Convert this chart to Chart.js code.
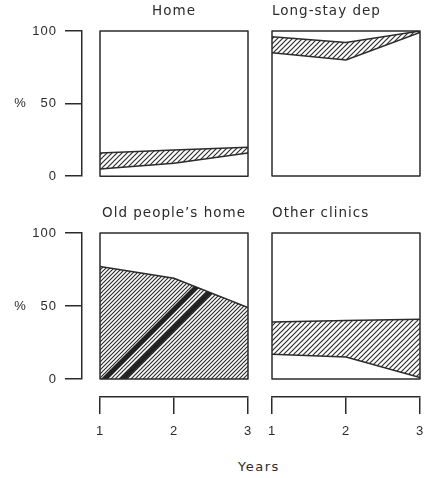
<!DOCTYPE html>
<html>
<head>
<meta charset="utf-8">
<script src="https://cdn.jsdelivr.net/npm/chart.js@4.4.0/dist/chart.umd.min.js"></script>
<style>
  html, body { margin: 0; padding: 0; background: #fff; }
  #wrap { position: relative; width: 424px; height: 478px; overflow: hidden; }
  canvas { position: absolute; }
  #years { position: absolute; left: 200px; width: 118px; top: 459px; text-align: center;
           font: 13px 'DejaVu Sans'; letter-spacing: 1.5px; color: #2b2b2b; line-height: 16px; }
</style>
</head>
<body>
<div id="wrap">
  <canvas id="home" width="254" height="192" style="left:0;top:0"></canvas>
  <canvas id="longstay" width="158" height="185" style="left:266px;top:0"></canvas>
  <canvas id="oldpeople" width="254" height="245" style="left:0;top:202px"></canvas>
  <canvas id="clinics" width="158" height="245" style="left:266px;top:202px"></canvas>
  <div id="years">Years</div>
</div>
<script>
// years on the x axis
const years = [1, 2, 3];
// share (%) at lower and upper edge of each hatched band
const homeLow = [5, 9, 16];
const homeHigh = [16, 18, 20];
const longLow = [85, 80, 99];
const longHigh = [96, 92, 100];
const oldHigh = [77, 69, 49];
const otherLow = [17, 15, 1];
const otherHigh = [39, 40, 41];
const yTicks = [0, 50, 100];

const ink = '#2b2b2b';
const tickFont = { family: 'Liberation Sans', size: 13 };
const titleFont = { family: 'DejaVu Sans', size: 13.5, weight: 'normal' };

function hatch(step) {
    const c = document.createElement('canvas');
    c.width = step; c.height = step;
    const g = c.getContext('2d');
    g.fillStyle = '#fff';
    g.fillRect(0, 0, step, step);
    g.strokeStyle = '#2e2e2e';
    g.lineWidth = 1.2;
    g.beginPath();
    g.moveTo(0, step); g.lineTo(step, 0);
    g.moveTo(-1, 1); g.lineTo(1, -1);
    g.moveTo(step - 1, step + 1); g.lineTo(step + 1, step - 1);
    g.stroke();
    return g.createPattern(c, 'repeat');
}

const pts = arr => years.map((x, i) => ({ x: x, y: arr[i] }));

const spacing = {
    id: 'spacing',
    beforeDraw(chart) { chart.ctx.letterSpacing = '1px'; }
};

const frame = {
    id: 'frame',
    afterDatasetsDraw(chart) {
        const { ctx, chartArea: a } = chart;
        ctx.save();
        ctx.strokeStyle = ink;
        ctx.lineWidth = 1.5;
        ctx.lineJoin = 'round';
        ctx.strokeRect(a.left, a.top, a.right - a.left, a.bottom - a.top);
        ctx.restore();
    }
};

// the two heavy strokes printed across the old people's home hatching
const stripes = {
    id: 'stripes',
    afterDatasetsDraw(chart) {
        const { ctx, scales: { x, y } } = chart;
        const p = chart.getDatasetMeta(0).data;
        const y0 = y.getPixelForValue(0);
        ctx.save();
        ctx.beginPath();
        ctx.moveTo(p[0].x, y0);
        p.forEach(q => ctx.lineTo(q.x, q.y));
        ctx.lineTo(p[p.length - 1].x, y0);
        ctx.closePath();
        ctx.clip();
        ctx.strokeStyle = '#222';
        ctx.lineWidth = 5;
        [1.06, 1.31].forEach(v => {
            const sx = x.getPixelForValue(v);
            ctx.beginPath();
            ctx.moveTo(sx - 10, y0 + 10);
            ctx.lineTo(sx + 250, y0 - 250);
            ctx.stroke();
        });
        ctx.restore();
    }
};

function scales(showX, showY) {
    const s = {
        x: { type: 'linear', min: 1, max: 3, display: false },
        y: { type: 'linear', min: 0, max: 100, display: false }
    };
    if (showX) {
        s.x = {
            type: 'linear', min: 1, max: 3, position: 'bottom', weight: 1,
            ticks: { stepSize: 1, padding: 10, color: ink, font: tickFont, maxRotation: 0 },
            grid: { drawOnChartArea: false, drawTicks: true, tickLength: 17, color: ink, lineWidth: 1.5 },
            border: { display: true, color: ink, width: 1.5 },
            afterFit: a => { a.height = 50; a.paddingLeft = 0; a.paddingRight = 0; }
        };
        s.xGap = {
            type: 'linear', axis: 'x', position: 'bottom', weight: 0,
            ticks: { display: false }, grid: { display: false }, border: { display: false },
            afterFit: a => { a.height = 18; a.paddingLeft = 0; a.paddingRight = 0; }
        };
    }
    if (showY) {
        s.y = {
            type: 'linear', min: 0, max: 100, position: 'left', weight: 1,
            afterBuildTicks: a => { a.ticks = yTicks.map(v => ({ value: v })); },
            ticks: { padding: 8, color: ink, font: tickFont,
                     callback: v => v === 50 ? '%   50' : v },
            grid: { drawOnChartArea: false, drawTicks: true, tickLength: 17, color: ink, lineWidth: 1.5 },
            border: { display: true, color: ink, width: 1.5 },
            afterFit: a => { a.width = 82; }
        };
        s.yGap = {
            type: 'linear', axis: 'y', position: 'left', weight: 0,
            ticks: { display: false }, grid: { display: false }, border: { display: false },
            afterFit: a => { a.width = 18; }
        };
    }
    return s;
}

function panel(id, title, align, datasets, showX, showY, pad, extra) {
    const ctx = document.getElementById(id).getContext('2d');
    return new Chart(ctx, {
        type: 'line',
        data: { datasets: datasets },
        options: {
            responsive: false,
            animation: false,
            layout: { padding: pad },
            elements: { point: { radius: 0 }, line: { tension: 0, borderColor: ink, borderWidth: 1.5 } },
            plugins: {
                legend: { display: false },
                tooltip: { enabled: false },
                title: {
                    display: true, text: title, align: align, fullSize: false,
                    color: ink, font: titleFont, padding: { top: 3, bottom: 11.8 }
                }
            },
            scales: scales(showX, showY)
        },
        plugins: [spacing].concat(extra || [], [frame])
    });
}

function band(low, high, step) {
    return [
        { data: pts(low), fill: false },
        { data: pts(high), fill: '-1', backgroundColor: hatch(step) }
    ];
}

panel('home', 'Home', 'center', band(homeLow, homeHigh, 5), false, true,
      { left: 0, right: 6, top: 0, bottom: 0 });
panel('longstay', 'Long-stay dep', 'start', band(longLow, longHigh, 5), false, false,
      { left: 6, right: 4, top: 0, bottom: 9 });
panel('oldpeople', 'Old people\u2019s home', 'center',
      [{ data: pts(oldHigh), fill: 'origin', backgroundColor: hatch(4) }], true, true,
      { left: 0, right: 6, top: 0, bottom: 0 }, [stripes]);
panel('clinics', 'Other clinics', 'start', band(otherLow, otherHigh, 5), true, false,
      { left: 6, right: 4, top: 0, bottom: 0 });
</script>
</body>
</html>
